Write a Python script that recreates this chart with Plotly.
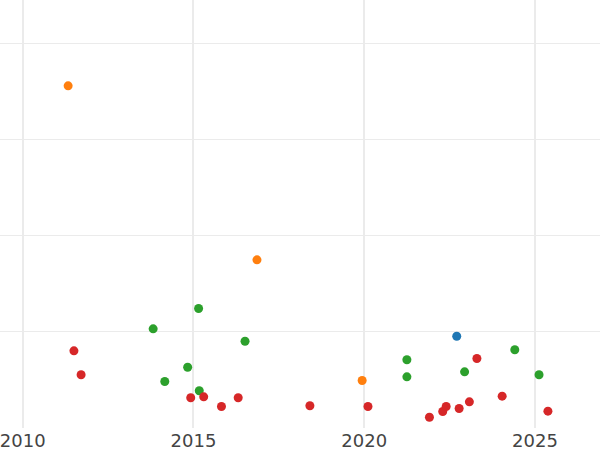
import plotly.graph_objects as go

blue_x = [2022.71]
blue_y = [0.954]

orange_x = [2011.33, 2016.86, 2019.94]
orange_y = [3.557, 1.748, 0.494]

green_x = [2013.82, 2015.15, 2016.51, 2014.83, 2014.16, 2015.17, 2021.25, 2021.25, 2022.94, 2024.41, 2025.12]
green_y = [1.031, 1.242, 0.902, 0.632, 0.483, 0.387, 0.709, 0.532, 0.584, 0.813, 0.553]

red_x = [2011.50, 2011.71, 2014.92, 2015.30, 2015.82, 2016.31, 2018.41, 2020.11, 2021.91, 2022.30,
         2022.40, 2022.78, 2023.08, 2023.30, 2024.04, 2025.38]
red_y = [0.802, 0.553, 0.314, 0.324, 0.223, 0.314, 0.231, 0.223, 0.112, 0.172,
         0.223, 0.203, 0.272, 0.722, 0.331, 0.175]

x_ticks = [2010, 2015, 2020, 2025]

fig = go.Figure()
for xs, ys, col in [(blue_x, blue_y, "#1f77b4"), (orange_x, orange_y, "#ff7f0e"),
                    (green_x, green_y, "#2ca02c"), (red_x, red_y, "#d62728")]:
    fig.add_trace(go.Scatter(x=xs, y=ys, mode="markers",
                             marker=dict(color=col, size=9, line=dict(width=0)),
                             showlegend=False))

fig.update_layout(
    width=600, height=450,
    margin=dict(l=0, r=0, t=0, b=22, pad=0),
    plot_bgcolor="white", paper_bgcolor="white",
    font=dict(family="DejaVu Sans", color="#444444"),
)
fig.update_xaxes(range=[2009.335, 2026.905], tickvals=x_ticks, ticktext=[str(t) for t in x_ticks],
                 showgrid=True, gridcolor="#ebebeb", gridwidth=2, zeroline=False,
                 showline=False, ticks="", tickfont=dict(size=18, color="#444444"),
                 ticklabeloverflow="allow", automargin=False)
fig.update_yaxes(range=[0.0, 4.449], dtick=1, tick0=0, showgrid=True, gridcolor="#ebebeb",
                 gridwidth=1, zeroline=False, showline=False, showticklabels=False,
                 ticks="", automargin=False)

fig.write_html("out.html", config={"displayModeBar": False},
               post_script="document.body.style.margin='0';")
